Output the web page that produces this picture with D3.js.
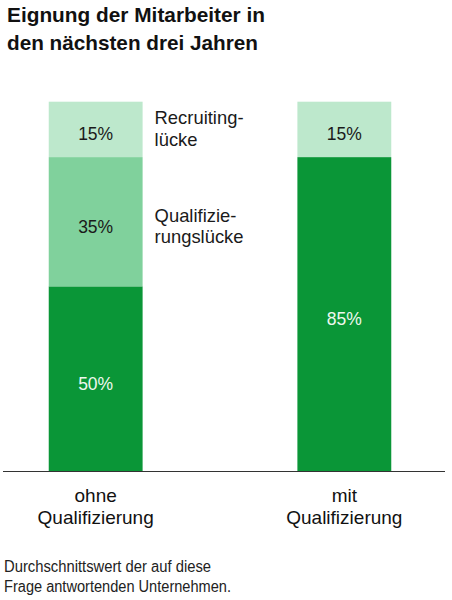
<!DOCTYPE html>
<html>
<head>
<meta charset="utf-8">
<script src="https://cdn.jsdelivr.net/npm/d3@7"></script>
<style>
  body { margin: 0; background: #fff; }
  svg { display: block; font-family: "Liberation Sans", Arial, sans-serif; }
</style>
</head>
<body>
<div id="chart"></div>
<script>
// data
var categories = ["ohne\nQualifizierung", "mit\nQualifizierung"];
var basis = [50, 85];          // dark green part
var qualiLuecke = [35, 0];     // middle part
var recruitLuecke = [15, 15];  // top part
var segmentNames = ["Recruiting-\nlücke", "Qualifizie-\nrungslücke"];
var titleLines = ["Eignung der Mitarbeiter in", "den nächsten drei Jahren"];
var noteLines = ["Durchschnittswert der auf diese", "Frage antwortenden Unternehmen."];

var width = 452,
    height = 600;

var svg = d3.select("#chart")
    .append("svg")
    .attr("width", width)
    .attr("height", height);

// title
svg.append("g").selectAll("text")
    .data(titleLines)
    .enter().append("text")
    .attr("x", 7)
    .attr("y", (d, i) => 22 + i * 28)
    .attr("font-size", 21)
    .attr("font-weight", "bold")
    .attr("fill", "#111")
    .attr("textLength", (d, i) => i == 0 ? 258 : 251)
    .attr("lengthAdjust", "spacingAndGlyphs")
    .text(d => d);

var x = d3.scaleBand()
    .domain(categories)
    .range([0, 440])
    .paddingInner(0.6225)
    .paddingOuter(0.196);

var y = d3.scaleLinear()
    .domain([0, 100])
    .range([471, 101.7]);

var rows = categories.map((c, i) => ({cat: c, basis: basis[i], quali: qualiLuecke[i], recruit: recruitLuecke[i]}));

var stack = d3.stack().keys(["basis", "quali", "recruit"]);
var series = stack(rows);

var fills = {basis: "#0a9637", quali: "#80d19c", recruit: "#bde8cc"};
var labelColor = {basis: "#eef8ee", quali: "#1a1a1a", recruit: "#1a1a1a"};

var layer = svg.append("g")
    .selectAll("g")
    .data(series)
    .enter().append("g")
    .attr("fill", d => fills[d.key]);

layer.selectAll("rect")
    .data(d => d.filter(s => s[1] > s[0]))
    .enter().append("rect")
    .attr("x", d => x(d.data.cat))
    .attr("y", d => y(d[1]))
    .attr("width", x.bandwidth())
    .attr("height", d => y(d[0]) - y(d[1]));

// value labels
series.forEach(function(s) {
  svg.append("g").selectAll("text")
      .data(s.filter(d => d[1] > d[0]))
      .enter().append("text")
      .attr("x", d => x(d.data.cat) + x.bandwidth() / 2)
      .attr("y", d => (y(d[0]) + y(d[1])) / 2 + 11)
      .attr("text-anchor", "middle")
      .attr("font-size", 17.5)
      .attr("fill", labelColor[s.key])
      .text(d => (d[1] - d[0]) + "%");
});

// segment names next to first bar
var first = rows[0];
var namePos = [
  (y(first.basis + first.quali) + y(100)) / 2 - 5.4,
  (y(first.basis) + y(first.basis + first.quali)) / 2
];
segmentNames.forEach(function(name, i) {
  var t = svg.append("text")
      .attr("x", x(categories[0]) + x.bandwidth() + 12)
      .attr("y", namePos[i])
      .attr("font-size", 18.4)
      .attr("fill", "#1a1a1a");
  t.selectAll("tspan")
      .data(name.split("\n"))
      .enter().append("tspan")
      .attr("x", x(categories[0]) + x.bandwidth() + 12)
      .attr("dy", (d, j) => j == 0 ? 0 : 21.6)
      .text(d => d);
});

// baseline
svg.append("line")
    .attr("x1", 3)
    .attr("x2", 445)
    .attr("y1", y(0) + 0.5)
    .attr("y2", y(0) + 0.5)
    .attr("stroke", "#333")
    .attr("stroke-width", 1.2);

// category labels
categories.forEach(function(c) {
  var t = svg.append("text")
      .attr("text-anchor", "middle")
      .attr("font-size", 19)
      .attr("fill", "#111")
      .attr("y", 502);
  t.selectAll("tspan")
      .data(c.split("\n"))
      .enter().append("tspan")
      .attr("x", x(c) + x.bandwidth() / 2)
      .attr("dy", (d, j) => j == 0 ? 0 : 22)
      .text(d => d);
});

// footnote
svg.append("g").selectAll("text")
    .data(noteLines)
    .enter().append("text")
    .attr("x", 4)
    .attr("y", (d, i) => 572 + i * 20)
    .attr("font-size", 16)
    .attr("fill", "#222")
    .attr("textLength", (d, i) => i == 0 ? 207 : 227)
    .attr("lengthAdjust", "spacingAndGlyphs")
    .text(d => d);
</script>
</body>
</html>
